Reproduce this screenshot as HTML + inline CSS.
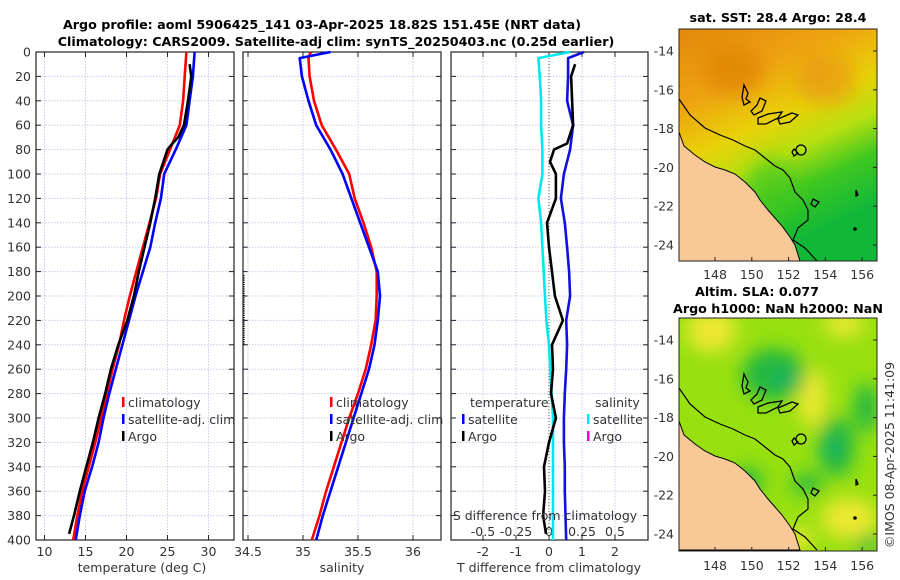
<!DOCTYPE html>
<html><head><meta charset="utf-8">
<style>
body{margin:0;background:#fff;}
svg{display:block;font-family:"DejaVu Sans","Liberation Sans",sans-serif;}
.t{font-size:12.5px;fill:#333;}
.b{font-size:12.7px;font-weight:bold;fill:#000;}
</style></head>
<body>
<svg id="c" width="900" height="580" viewBox="0 0 900 580" xmlns="http://www.w3.org/2000/svg">
<defs>
<linearGradient id="sstg" x1="0" y1="0" x2="0.4" y2="1">
<stop offset="0" stop-color="#e2880c"/><stop offset="0.3" stop-color="#eea510"/><stop offset="0.5" stop-color="#e8d208"/><stop offset="0.65" stop-color="#b8e010"/><stop offset="0.8" stop-color="#40c820"/><stop offset="1" stop-color="#10b838"/>
</linearGradient>
<filter id="blur" x="-50%" y="-50%" width="200%" height="200%"><feGaussianBlur stdDeviation="9"/></filter>
<clipPath id="m1"><rect x="679" y="29" width="198" height="232"/></clipPath>
<clipPath id="m2"><rect x="679" y="318" width="198" height="233"/></clipPath>
</defs>
<g id="plots"></g>
</svg>
<script>
// ---- data ----
const depths = [0,20,40,60,80,100,120,140,160,180,200,220,240,260,280,300,320,340,360,380,400];
const tempClim = [27.3,27.1,26.9,26.5,25.3,24.1,23.6,22.8,22.0,21.2,20.4,19.7,19.1,18.3,17.6,16.9,16.2,15.4,14.6,14.0,13.5];
const tempSat  = [28.3,28.1,27.7,27.3,26.0,24.6,24.2,23.5,22.9,22.0,21.1,20.3,19.5,18.7,17.9,17.2,16.6,15.8,14.9,14.3,13.8];
const argoDepths = [10,20,40,60,70,75,80,90,100,120,140,160,180,200,220,240,260,280,300,320,340,360,380,395];
const tempArgo = [27.7,27.9,27.5,27.0,26.3,25.6,25.0,24.5,24.0,23.5,22.9,22.2,21.5,20.9,20.1,19.0,18.1,17.4,16.6,15.9,15.1,14.3,13.6,13.0];
const salDepths = [0,5,20,40,60,80,100,120,140,160,180,200,220,240,260,280,300,320,340,360,380,400];
const salClim = [35.07,35.05,35.06,35.10,35.17,35.30,35.42,35.47,35.55,35.62,35.67,35.67,35.66,35.62,35.57,35.50,35.42,35.35,35.28,35.21,35.15,35.08];
const salSat  = [35.25,34.97,34.99,35.05,35.12,35.25,35.36,35.44,35.52,35.60,35.68,35.70,35.68,35.65,35.60,35.53,35.46,35.39,35.32,35.25,35.18,35.12];
const sDiffSat = [0.16,-0.08,-0.07,-0.06,-0.06,-0.05,-0.05,-0.08,-0.06,-0.05,-0.04,-0.03,-0.02,0.0,0.01,0.02,0.03,0.03,0.03,0.03,0.03,0.03];
const tDiffSat = [1.06,0.58,0.58,0.55,0.73,0.64,0.45,0.36,0.48,0.55,0.61,0.64,0.52,0.55,0.52,0.48,0.45,0.45,0.48,0.48,0.50,0.52];
const tDiffArgo = [0.79,0.67,0.70,0.73,0.61,0.55,0.15,0.03,0.21,0.21,-0.06,0.0,0.09,0.18,0.42,0.09,0.12,0.06,0.21,0.0,-0.15,-0.12,-0.18,-0.09];
const depthTicks = [0,20,40,60,80,100,120,140,160,180,200,220,240,260,280,300,320,340,360,380,400];
const tTicks = [10,15,20,25,30];
const sTicks = [34.5,35,35.5,36];
const dTicks = [-2,-1,0,1,2];
const sdTicks = [-0.5,-0.25,0,0.25,0.5];
const sdTickLabels = ['-0.5','-0.25','0','0.25','0.5'];
const lonTicks = [148,150,152,154,156];
const latTicks = [-14,-16,-18,-20,-22,-24];

// ---- scales ----
const Y0=52, Y1=540;
const yD = d => Y0 + d*(Y1-Y0)/400;
const xT = v => 44.5 + (v-10)*8.2;
const xS = v => 303 + (v-35)*110;
const xD = v => 549 + v*33;
const xSD = v => 549 + v*132;
const lonX = v => 715 + (v-148)*18.4;
const latY1 = v => 51 + (-14-v)*19.4;
const latY2 = v => 340 + (-14-v)*19.4;

const NS='http://www.w3.org/2000/svg';
const root=document.getElementById('plots');
function mk(tag,attrs,parent){const e=document.createElementNS(NS,tag);for(const k in attrs)e.setAttribute(k,attrs[k]);(parent||root).appendChild(e);return e;}
function txt(s,x,y,cls,anchor,parent){const e=mk('text',{x:x,y:y,class:cls,'text-anchor':anchor||'middle'},parent);e.textContent=s;return e;}

const panels=[{x0:36,x1:234},{x0:243,x1:441},{x0:451,x1:648}];
panels.forEach((p,i)=>{
  const g=mk('g',{});
  
  
  depthTicks.forEach(d=>{
    const l=mk('line',{x1:p.x0,x2:p.x1,y1:yD(d),y2:yD(d),stroke:'#c8cce8','stroke-width':1,'stroke-dasharray':'1.5,1.5'},g);
    
    
    mk('line',{x1:p.x0,x2:p.x0+5,y1:yD(d),y2:yD(d),stroke:'#222'},g);
    mk('line',{x1:p.x1-5,x2:p.x1,y1:yD(d),y2:yD(d),stroke:'#222'},g);
  });
  const r=mk('rect',{x:p.x0,y:Y0,width:p.x1-p.x0,height:Y1-Y0,fill:'none',stroke:'#222','stroke-width':1.2},g);
  
  
  p.g=g;
});
depthTicks.forEach(d=>{
  const t=txt(String(d),31,yD(d)+4.5,'t','end');
  
  
});
function vgrid(vals,fx,p,labels,ly){
  vals.forEach((v,i)=>{
    mk('line',{x1:fx(v),x2:fx(v),y1:Y0,y2:Y1,stroke:'#c8cce8','stroke-dasharray':'1.5,1.5'},p.g);
    mk('line',{x1:fx(v),x2:fx(v),y1:Y1-5,y2:Y1,stroke:'#222'},p.g);
    mk('line',{x1:fx(v),x2:fx(v),y1:Y0,y2:Y0+5,stroke:'#222'},p.g);
    const t=txt(labels?labels[i]:String(v),fx(v),ly,'t');
    
    
  });
}
vgrid(tTicks,xT,panels[0],null,556);
vgrid(sTicks,xS,panels[1],null,556);
vgrid(dTicks,xD,panels[2],null,556);
sdTicks.forEach((v,i)=>{
  const t=txt(sdTickLabels[i],xSD(v),536,'t');
  
  
});
const z=mk('line',{x1:xD(0),x2:xD(0),y1:Y0,y2:Y1,stroke:'#555','stroke-dasharray':'1,2'});



function line(xs,ys,fx,color,name,w){
  const pts=xs.map((v,i)=>fx(v).toFixed(1)+','+yD(ys[i]).toFixed(1)).join(' ');
  const l=mk('polyline',{points:pts,fill:'none',stroke:color,'stroke-width':w||2.6,'stroke-linejoin':'round'});
  
  
}
line(tempClim,depths,xT,'#ff0000','temp-climatology-line');
line(tempSat,depths,xT,'#0000ff','temp-satellite-line');
line(tempArgo,argoDepths,xT,'#000000','temp-argo-line');
line(salClim,salDepths,xS,'#ff0000','sal-climatology-line');
line(salSat,salDepths,xS,'#0000ff','sal-satellite-line');
line(sDiffSat,salDepths,xSD,'#00e8ee','s-diff-satellite-line');
line(tDiffSat,salDepths,xD,'#1010e0','t-diff-satellite-line');
line(tDiffArgo,argoDepths,xD,'#000000','t-diff-argo-line');
const as=mk('line',{x1:244,x2:244,y1:yD(183),y2:yD(240),stroke:'#000','stroke-width':1.5,'stroke-dasharray':'1,1.2'});



function leg(x,y,color,label){
  const m=mk('rect',{x:x,y:y-10,width:2.5,height:10,fill:color});
  
  
  const t=txt(label,x+6,y,'t','start');
  
  
}
leg(122,407,'#ff0000','climatology');leg(122,424,'#0000ff','satellite-adj. clim');leg(122,441,'#000','Argo');
leg(330,407,'#ff0000','climatology');leg(330,424,'#0000ff','satellite-adj. clim');leg(330,441,'#000','Argo');
txt('temperature',470,407,'t','start');
leg(462,424,'#0000ff','satellite');leg(462,441,'#000','Argo');
txt('salinity',595,407,'t','start');
leg(587,424,'#00e8ee','satellite');leg(587,441,'#ff00cc','Argo');
txt('S difference from climatology',545,520,'t');

txt('temperature (deg C)',142,572,'t');
txt('salinity',342,572,'t');
txt('T difference from climatology',549,572,'t');
txt('Argo profile: aoml 5906425_141 03-Apr-2025 18.82S 151.45E (NRT data)',322,29,'b');
txt('Climatology: CARS2009. Satellite-adj clim: synTS_20250403.nc (0.25d earlier)',336,46,'b');

// maps
const coastLand="M679,132 L684,146 L695,155 L705,162 L715,167 L725,170 L735,174 L745,182 L755,192 L760,200 L768,210 L775,218 L782,226 L790,237 L795,245 L800,261 L679,261 Z";
const reef="M679,99 L690,115 L705,128 L720,135 L733,140 L745,146 L755,150 L765,158 L775,166 L783,170 L790,178 L795,192 L803,200 L808,210 L808,220 L798,228 L793,240 L805,248 L817,261";
const islands="M744,85 l4,8 l-2,6 l4,3 l-6,3 l-2,-8 z M760,98 l6,3 l-4,10 l-8,4 l-3,-4 l6,-6 z M758,118 l10,-4 l14,-2 l-4,6 l-12,6 l-8,0 z M778,119 l14,-6 l6,2 l-8,7 l-10,2 z M801,150 m-5,0 a5,5 0 1,0 10,0 a5,5 0 1,0 -10,0 M794,149 l4,4 l-4,3 l-2,-4 z M813,199 l6,3 l-4,5 l-4,-3 z M856,190 l2,5 l-2,1 z";
function drawMap(clip,dy,fill,name){
  const g=mk('g',{'clip-path':'url(#'+clip+')'});
  
  
  fill(g);
  mk('path',{d:coastLand,transform:'translate(0,'+dy+')',fill:'#f8c896',stroke:'#000','stroke-width':1},g);
  mk('path',{d:reef,transform:'translate(0,'+dy+')',fill:'none',stroke:'#000','stroke-width':1.2},g);
  mk('path',{d:islands,transform:'translate(0,'+dy+')',fill:'none',stroke:'#000','stroke-width':1.3},g);
  mk('circle',{cx:855,cy:229+dy,r:1.8,fill:'#000'},g);
  mk('rect',{x:679,y:(dy?318:29),width:198,height:(dy?233:232),fill:'none',stroke:'#222'});
}
drawMap('m1',0,g=>{
  mk('rect',{x:679,y:29,width:198,height:232,fill:'url(#sstg)'},g);
  const b=mk('g',{filter:'url(#blur)'},g);
  mk('ellipse',{cx:lonX(149),cy:latY1(-15),rx:30,ry:25,fill:'#e08008',opacity:0.7},b);
  mk('ellipse',{cx:lonX(154),cy:latY1(-15.5),rx:30,ry:25,fill:'#e89010',opacity:0.6},b);
  mk('ellipse',{cx:lonX(151),cy:latY1(-21),rx:25,ry:30,fill:'#40c820',opacity:0.6},b);
},'sst-map');
drawMap('m2',289,g=>{
  mk('rect',{x:679,y:318,width:198,height:233,fill:'#98e010'},g);
  const b=mk('g',{filter:'url(#blur)'},g);
  [[147.8,-13.5,25,22],[153.3,-17,14,30],[155.3,-23.2,28,20],[152.5,-24.3,14,12],[155,-13.2,20,12]].forEach(a=>
    mk('ellipse',{cx:lonX(a[0]),cy:latY2(a[1]),rx:a[2],ry:a[3],fill:'#eee830'},b));
  [[151.2,-15.8,32,26],[154.6,-19.5,18,30],[156.2,-17.5,12,25],[149.8,-21.3,14,14],[153,-21.4,16,10],[156.3,-24.5,14,8]].forEach(a=>
    mk('ellipse',{cx:lonX(a[0]),cy:latY2(a[1]),rx:a[2],ry:a[3],fill:'#20b840'},b));
  mk('ellipse',{cx:lonX(151.8),cy:latY2(-16),rx:10,ry:8,fill:'#18b070'},b);
  mk('ellipse',{cx:lonX(154.4),cy:latY2(-19.6),rx:8,ry:10,fill:'#18b070'},b);
},'sla-map');
lonTicks.forEach(v=>{
  [[261,275],[551,566]].forEach(([yb,ly])=>{
    mk('line',{x1:lonX(v),x2:lonX(v),y1:yb-4,y2:yb,stroke:'#222'});
    const t=txt(String(v),lonX(v),ly+4,'t');
    
    
  });
});
latTicks.forEach(v=>{
  [latY1(v),latY2(v)].forEach(y=>{
    mk('line',{x1:873,x2:877,y1:y,y2:y,stroke:'#222'});
    const t=txt(String(v),674,y+4.5,'t','end');
    
    
  });
});
txt('sat. SST: 28.4 Argo: 28.4',778,22,'b');
txt('Altim. SLA: 0.077',757,296,'b');
txt('Argo h1000: NaN h2000: NaN',778,313,'b');
const cr=txt('©IMOS 08-Apr-2025 11:41:09',0,0,'t');
cr.setAttribute('transform','translate(894,455) rotate(-90)');


</script>
</body></html>
